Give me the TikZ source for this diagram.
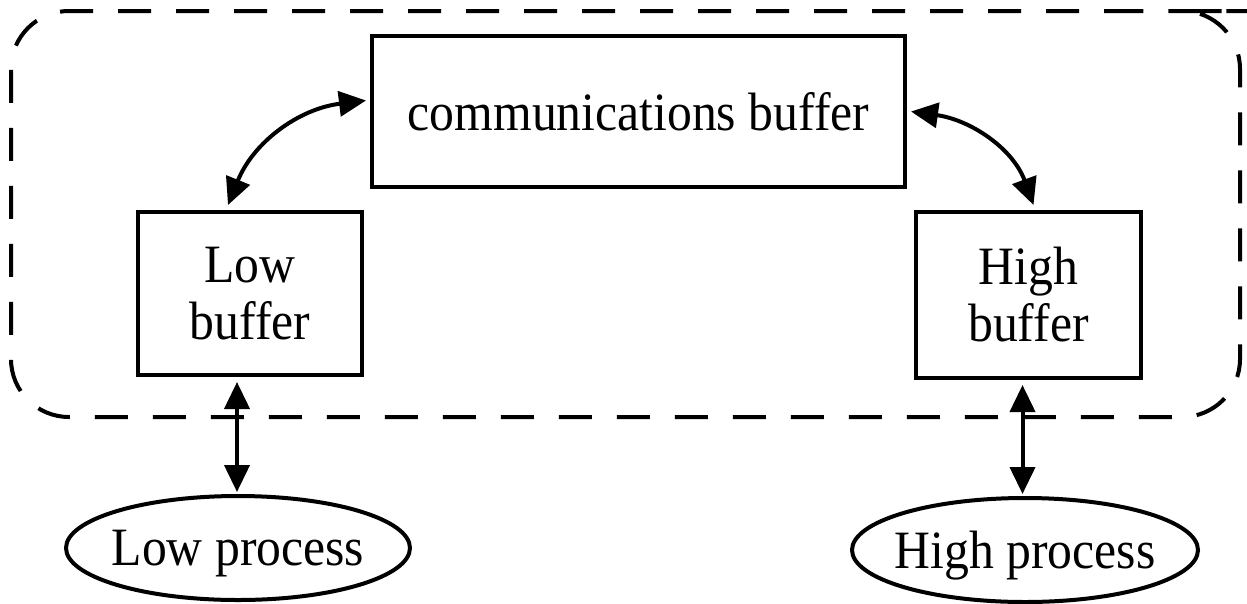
\documentclass[tikz,border=0pt]{standalone}
\usepackage{fontspec}
\setmainfont[FakeStretch=0.92]{Liberation Serif}
\usetikzlibrary{arrows.meta}
\begin{document}
\begin{tikzpicture}[x=1pt,y=-1pt,
  line width=4pt,
  txt/.style={font=\fontsize{54}{56}\selectfont},
  box/.style={draw,rectangle,inner sep=0pt,txt,align=center},
  proc/.style={rectangle,inner sep=0pt,txt,text depth=0pt},
  both/.style={{Triangle[length=27pt,width=25pt]}-{Triangle[length=27pt,width=25pt]}},
  boundary/.style={draw,dash pattern=on 33pt off 25pt,rounded corners=58pt}]
\useasboundingbox (0,0) rectangle (1247,603);

% enclosing boundary of the buffers
\draw[boundary] (1195,11) -- (11,11) -- (11,417) -- (1240,417) -- (1240,11) -- cycle;

% buffers
\node[box,minimum width=533pt,minimum height=151pt] (comm) at (638.5,111.5) {communications buffer};
\node[box,minimum width=224pt,minimum height=163pt] (low) at (250,293.5) {Low\\[1pt]buffer};
\node[box,minimum width=225pt,minimum height=166pt] (high) at (1028.5,295) {High\\[1pt]buffer};

% processes: text boxes with their elliptic outlines
\node[proc,minimum width=344pt,minimum height=104pt] (lowp) at (238,548) {Low process};
\node[proc,minimum width=346pt,minimum height=104pt] (highp) at (1025,550) {High process};
\draw (lowp.center) ellipse [x radius=172pt, y radius=52pt];
\draw (highp.center) ellipse [x radius=173pt, y radius=52pt];

% links between buffers
\draw[both] ([yshift=11pt,xshift=-4pt]comm.west) to[out=187,in=68] ([xshift=-22pt,yshift=5pt]low.north);
\draw[both] ([xshift=4pt]comm.east) to[out=-8,in=110] ([xshift=5pt,yshift=5pt]high.north);

% links to processes
\draw[both] ([xshift=-13pt,yshift=-5pt]low.south) -- ([xshift=-13pt,yshift=2pt]lowp.north -| low.south);
\draw[both] ([xshift=-6pt,yshift=-5pt]high.south) -- ([xshift=-6pt,yshift=2pt]highp.north -| high.south);
\end{tikzpicture}
\end{document}
